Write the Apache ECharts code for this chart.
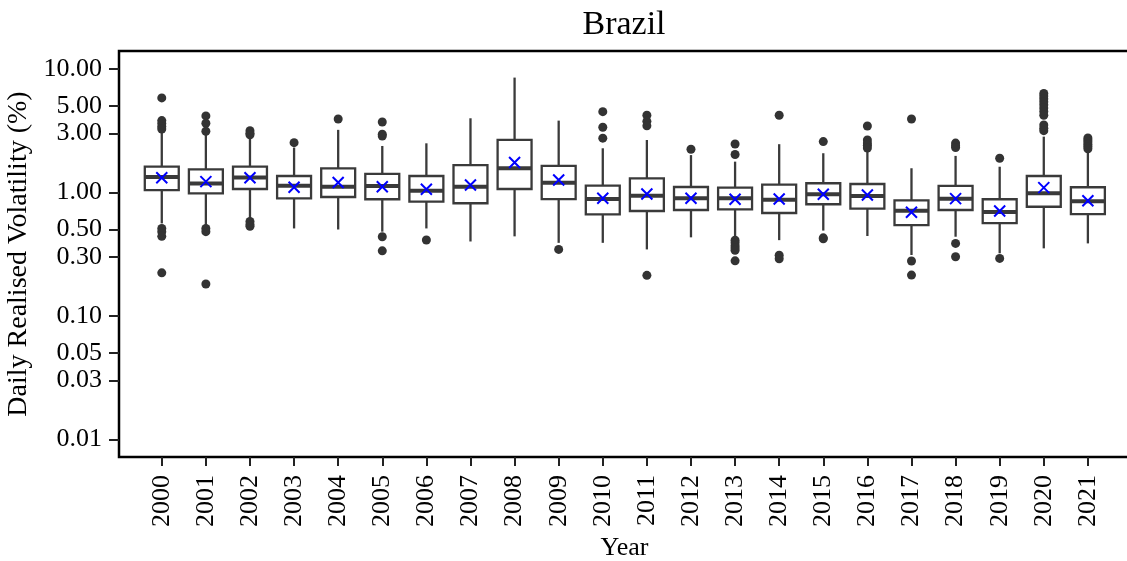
<!DOCTYPE html>
<html>
<head>
<meta charset="utf-8">
<title>Brazil – Daily Realised Volatility</title>
<script src="https://cdn.jsdelivr.net/npm/echarts@6/dist/echarts.min.js"></script>
<style>
  html, body { margin: 0; padding: 0; background: #fff; }
  #chart { width: 1127px; height: 561px; }
</style>
</head>
<body>
<div id="chart"></div>
<script>
// Yearly distribution of daily realised volatility (%), Brazil
const years = ['2000','2001','2002','2003','2004','2005','2006','2007','2008','2009','2010',
               '2011','2012','2013','2014','2015','2016','2017','2018','2019','2020','2021'];

// [lower whisker, Q1, median, Q3, upper whisker]
const boxStats = [
  [0.56, 1.04, 1.33, 1.61, 3.10],
  [0.54, 0.98, 1.18, 1.535, 3.00],
  [0.61, 1.063, 1.32, 1.61, 2.80],
  [0.51, 0.894, 1.13, 1.355, 2.30],
  [0.50, 0.916, 1.11, 1.56, 3.20],
  [0.48, 0.878, 1.125, 1.41, 2.37],
  [0.51, 0.84, 1.03, 1.355, 2.49],
  [0.40, 0.815, 1.11, 1.66, 3.97],
  [0.44, 1.063, 1.565, 2.65, 8.47],
  [0.39, 0.882, 1.196, 1.633, 3.80],
  [0.39, 0.663, 0.882, 1.131, 2.27],
  [0.345, 0.706, 0.939, 1.298, 2.65],
  [0.432, 0.719, 0.894, 1.104, 2.00],
  [0.443, 0.728, 0.894, 1.089, 1.77],
  [0.41, 0.68, 0.871, 1.152, 2.45],
  [0.49, 0.80, 0.963, 1.183, 2.07],
  [0.443, 0.737, 0.933, 1.167, 2.13],
  [0.311, 0.543, 0.71, 0.861, 1.565],
  [0.437, 0.719, 0.888, 1.125, 1.97],
  [0.321, 0.564, 0.693, 0.878, 1.61],
  [0.352, 0.764, 0.981, 1.355, 2.82],
  [0.386, 0.667, 0.846, 1.098, 2.10]
];

// yearly mean
const means = [1.31, 1.22, 1.31, 1.10, 1.20, 1.11, 1.057, 1.146, 1.74, 1.258, 0.894,
               0.97, 0.894, 0.878, 0.882, 0.963, 0.95, 0.689, 0.888, 0.706, 1.09, 0.855];

// points beyond the whiskers
const outliers = [
  [5.8, 3.8, 3.6, 3.4, 3.25, 0.51, 0.48, 0.44, 0.223],
  [4.15, 3.62, 3.12, 0.51, 0.48, 0.181],
  [3.15, 3.0, 2.92, 0.58, 0.55, 0.53],
  [2.52],
  [3.92],
  [3.7, 2.95, 2.85, 0.437, 0.336],
  [0.411],
  [],
  [],
  [0.345],
  [4.49, 3.36, 2.74],
  [4.2, 3.75, 3.45, 0.213],
  [2.23],
  [2.46, 2.02, 0.41, 0.39, 0.37, 0.355, 0.34, 0.279],
  [4.2, 0.31, 0.29],
  [2.57, 0.428, 0.42],
  [3.44, 2.65, 2.5, 2.4, 2.28],
  [3.92, 0.278, 0.214],
  [2.5, 2.38, 2.3, 0.386, 0.301],
  [1.885, 0.292],
  [6.3, 6.0, 5.7, 5.4, 5.1, 4.8, 4.5, 4.2, 3.5, 3.3, 3.15],
  [2.75, 2.65, 2.55, 2.45, 2.35, 2.25]
];

const yTicks = [0.01, 0.03, 0.05, 0.1, 0.3, 0.5, 1, 3, 5, 10];
const xTicks = years.map((y, i) => i);

const FONT = "'Liberation Serif', 'DejaVu Serif', serif";
const INK = '#3a3a3a';

const boxData = boxStats.map((s, i) => [i].concat(s));
const meanData = means.map((m, i) => [i, m]);
const outlierData = [];
outliers.forEach((list, i) => list.forEach(v => outlierData.push([i, v])));

// Box with whiskers (no end caps) and a heavy median bar
function renderBox(params, api) {
  const x = api.value(0);
  const lo = api.coord([x, api.value(1)]);
  const q1 = api.coord([x, api.value(2)]);
  const med = api.coord([x, api.value(3)]);
  const q3 = api.coord([x, api.value(4)]);
  const hi = api.coord([x, api.value(5)]);
  const half = api.size([1, 0])[0] * 0.385;
  const thin = { stroke: INK, lineWidth: 2.3 };
  return {
    type: 'group',
    children: [
      { type: 'line', shape: { x1: lo[0], y1: lo[1], x2: q1[0], y2: q1[1] }, style: thin },
      { type: 'line', shape: { x1: q3[0], y1: q3[1], x2: hi[0], y2: hi[1] }, style: thin },
      { type: 'rect', shape: { x: q3[0] - half, y: q3[1], width: 2 * half, height: q1[1] - q3[1] },
        style: { fill: '#fff', stroke: INK, lineWidth: 2.3 } },
      { type: 'line', shape: { x1: med[0] - half, y1: med[1], x2: med[0] + half, y2: med[1] },
        style: { stroke: INK, lineWidth: 4 } }
    ]
  };
}

const chart = echarts.init(document.getElementById('chart'), null, { renderer: 'canvas' });

chart.setOption({
  animation: false,
  backgroundColor: '#fff',
  title: {
    text: 'Brazil',
    left: 619,
    textAlign: 'center',
    top: 3,
    textStyle: { fontFamily: FONT, fontSize: 34, fontWeight: 'normal', color: '#000' }
  },
  grid: {
    left: 119, right: -3, top: 51, bottom: 104,
    outerBoundsMode: 'none',
    containLabel: false,
    show: true, borderColor: '#000', borderWidth: 2.5, backgroundColor: 'transparent'
  },
  xAxis: {
    type: 'value',
    min: -0.97,
    max: 21.955,
    name: 'Year',
    nameLocation: 'middle',
    nameGap: 76,
    nameTextStyle: { fontFamily: FONT, fontSize: 26, color: '#000' },
    axisLine: { show: false, onZero: false },
    splitLine: { show: false },
    axisTick: { show: true, length: 9, customValues: xTicks, lineStyle: { color: '#222', width: 2 } },
    axisLabel: {
      customValues: xTicks,
      rotate: 90,
      margin: 18,
      fontFamily: FONT, fontSize: 26, color: '#000',
      formatter: v => years[Math.round(v)]
    }
  },
  yAxis: {
    type: 'log',
    logBase: 10,
    min: 0.00722,
    max: 13.9,
    name: 'Daily Realised Volatility (%)',
    nameLocation: 'middle',
    nameGap: 81,
    nameTextStyle: { fontFamily: FONT, fontSize: 28, color: '#000' },
    axisLine: { show: false, onZero: false },
    splitLine: { show: false },
    minorTick: { show: false },
    axisTick: { show: true, length: 10, customValues: yTicks, lineStyle: { color: '#222', width: 2 } },
    axisLabel: {
      customValues: yTicks,
      margin: 17,
      fontFamily: FONT, fontSize: 26, color: '#000',
      formatter: v => Number(v).toFixed(2)
    }
  },
  series: [
    {
      name: 'box',
      type: 'custom',
      data: boxData,
      encode: { x: 0, y: [1, 2, 3, 4, 5] },
      renderItem: renderBox,
      z: 2
    },
    {
      name: 'outliers',
      type: 'scatter',
      data: outlierData,
      symbol: 'circle',
      symbolSize: 9,
      itemStyle: { color: '#333', opacity: 1 },
      z: 4
    },
    {
      name: 'mean',
      type: 'scatter',
      data: meanData,
      symbol: 'path://M0,0L10,10M10,0L0,10',
      symbolSize: 11,
      itemStyle: { color: 'rgba(0,0,0,0)', borderColor: '#0000ff', borderWidth: 2, opacity: 1 },
      z: 5
    }
  ]
});
</script>
</body>
</html>
